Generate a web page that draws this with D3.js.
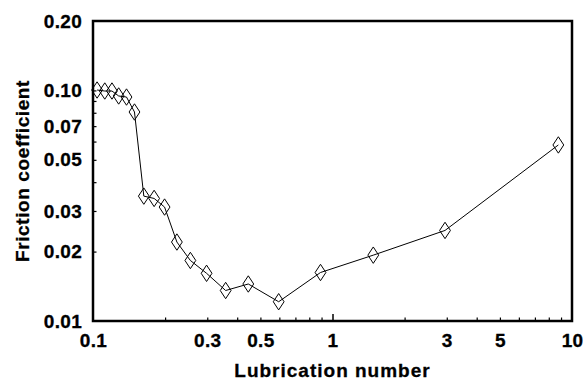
<!DOCTYPE html>
<html>
<head>
<meta charset="utf-8">
<script src="https://cdn.jsdelivr.net/npm/d3@7"></script>
<style>
  body { margin: 0; background: #fff; }
  text { font-family: "Liberation Sans", Arial, sans-serif; font-weight: bold; fill: #000; }
</style>
</head>
<body>
<svg id="chart" width="584" height="382"></svg>
<script>
// lubrication number vs friction coefficient
const lubNumber = [0.104, 0.112, 0.120, 0.128, 0.138, 0.149, 0.163, 0.180, 0.199, 0.224,
  0.255, 0.298, 0.358, 0.445, 0.596, 0.891, 1.48, 2.95, 8.77];
const friction = [0.1004, 0.0994, 0.0994, 0.0946, 0.0936, 0.0806, 0.0348, 0.0340, 0.0312, 0.0220,
  0.0183, 0.0161, 0.01356, 0.01447, 0.01212, 0.01623, 0.0193, 0.0247, 0.058];

const xLabels = [0.1, 0.3, 0.5, 1, 3, 5, 10];
const xTicks = [0.2, 0.3, 0.4, 0.5, 0.6, 0.7, 0.8, 0.9, 2, 3, 4, 5, 6, 7, 8, 9];
const xMajor = [1];
const yLabels = [0.01, 0.02, 0.03, 0.05, 0.07, 0.10, 0.20];
const yTicks = [0.02, 0.03, 0.04, 0.05, 0.06, 0.07, 0.08, 0.09, 0.1];

const W = 584, H = 382;
const m = {left: 93, right: 12, top: 21, bottom: 61};
const svg = d3.select("#chart");

const x = d3.scaleLog().domain([0.1, 10]).range([m.left, W - m.right]);
const y = d3.scaleLog().domain([0.01, 0.2]).range([H - m.bottom, m.top]);

// tick marks (inward)
svg.append("g")
  .attr("transform", `translate(0,${H - m.bottom})`)
  .call(d3.axisBottom(x).tickValues(xTicks).tickSize(-3.5).tickFormat(""))
  .call(g => g.select(".domain").remove())
  .selectAll("line").attr("stroke-width", 1.2);
svg.append("g")
  .attr("transform", `translate(0,${H - m.bottom})`)
  .call(d3.axisBottom(x).tickValues(xMajor).tickSize(-7).tickFormat(""))
  .call(g => g.select(".domain").remove())
  .selectAll("line").attr("stroke-width", 1.5);
svg.append("g")
  .attr("transform", `translate(${m.left},0)`)
  .call(d3.axisLeft(y).tickValues(yTicks).tickSize(-3.5).tickFormat(""))
  .call(g => g.select(".domain").remove())
  .selectAll("line").attr("stroke-width", 1.2);

// tick labels
const tickFont = sel => sel
  .style("font-size", "19px").style("letter-spacing", "0.3px")
  .style("font-family", "'Liberation Sans', Arial, sans-serif").style("font-weight", "bold")
  .attr("stroke", "#000").attr("stroke-width", 0.3);

svg.append("g")
  .attr("transform", `translate(0,${H - m.bottom})`)
  .call(d3.axisBottom(x).tickValues(xLabels).tickSize(0).tickPadding(13)
    .tickFormat(d => d < 1 ? d3.format(".1f")(d) : d3.format("d")(d)))
  .call(g => g.select(".domain").remove())
  .selectAll("text").call(tickFont);

svg.append("g")
  .attr("transform", `translate(${m.left},0)`)
  .call(d3.axisLeft(y).tickValues(yLabels).tickSize(0).tickPadding(11).tickFormat(d3.format(".2f")))
  .call(g => g.select(".domain").remove())
  .selectAll("text").call(tickFont);

// frame
svg.append("rect")
  .attr("x", m.left).attr("y", m.top)
  .attr("width", W - m.left - m.right).attr("height", H - m.top - m.bottom)
  .attr("fill", "none").attr("stroke", "#000").attr("stroke-width", 2.5);

// line + diamonds
const pts = lubNumber.map((v, i) => [v, friction[i]]);
svg.append("path")
  .datum(pts)
  .attr("fill", "none").attr("stroke", "#000").attr("stroke-width", 1)
  .attr("d", d3.line().x(d => x(d[0])).y(d => y(d[1])));

svg.append("g").selectAll("path")
  .data(pts)
  .join("path")
  .attr("transform", d => `translate(${x(d[0])},${y(d[1])})`)
  .attr("d", "M0,-8.2L5.4,0L0,8.2L-5.4,0Z")
  .attr("fill", "none").attr("stroke", "#000").attr("stroke-width", 1);

// axis titles
svg.append("text")
  .attr("x", (m.left + W - m.right) / 2).attr("y", 377)
  .attr("text-anchor", "middle")
  .style("font-size", "19px").style("letter-spacing", "1px")
  .attr("stroke", "#000").attr("stroke-width", 0.3)
  .text("Lubrication number");

svg.append("text")
  .attr("transform", `translate(29,${(m.top + H - m.bottom) / 2}) rotate(-90)`)
  .attr("text-anchor", "middle")
  .style("font-size", "19px").style("letter-spacing", "0.6px")
  .attr("stroke", "#000").attr("stroke-width", 0.3)
  .text("Friction coefficient");
</script>
</body>
</html>
